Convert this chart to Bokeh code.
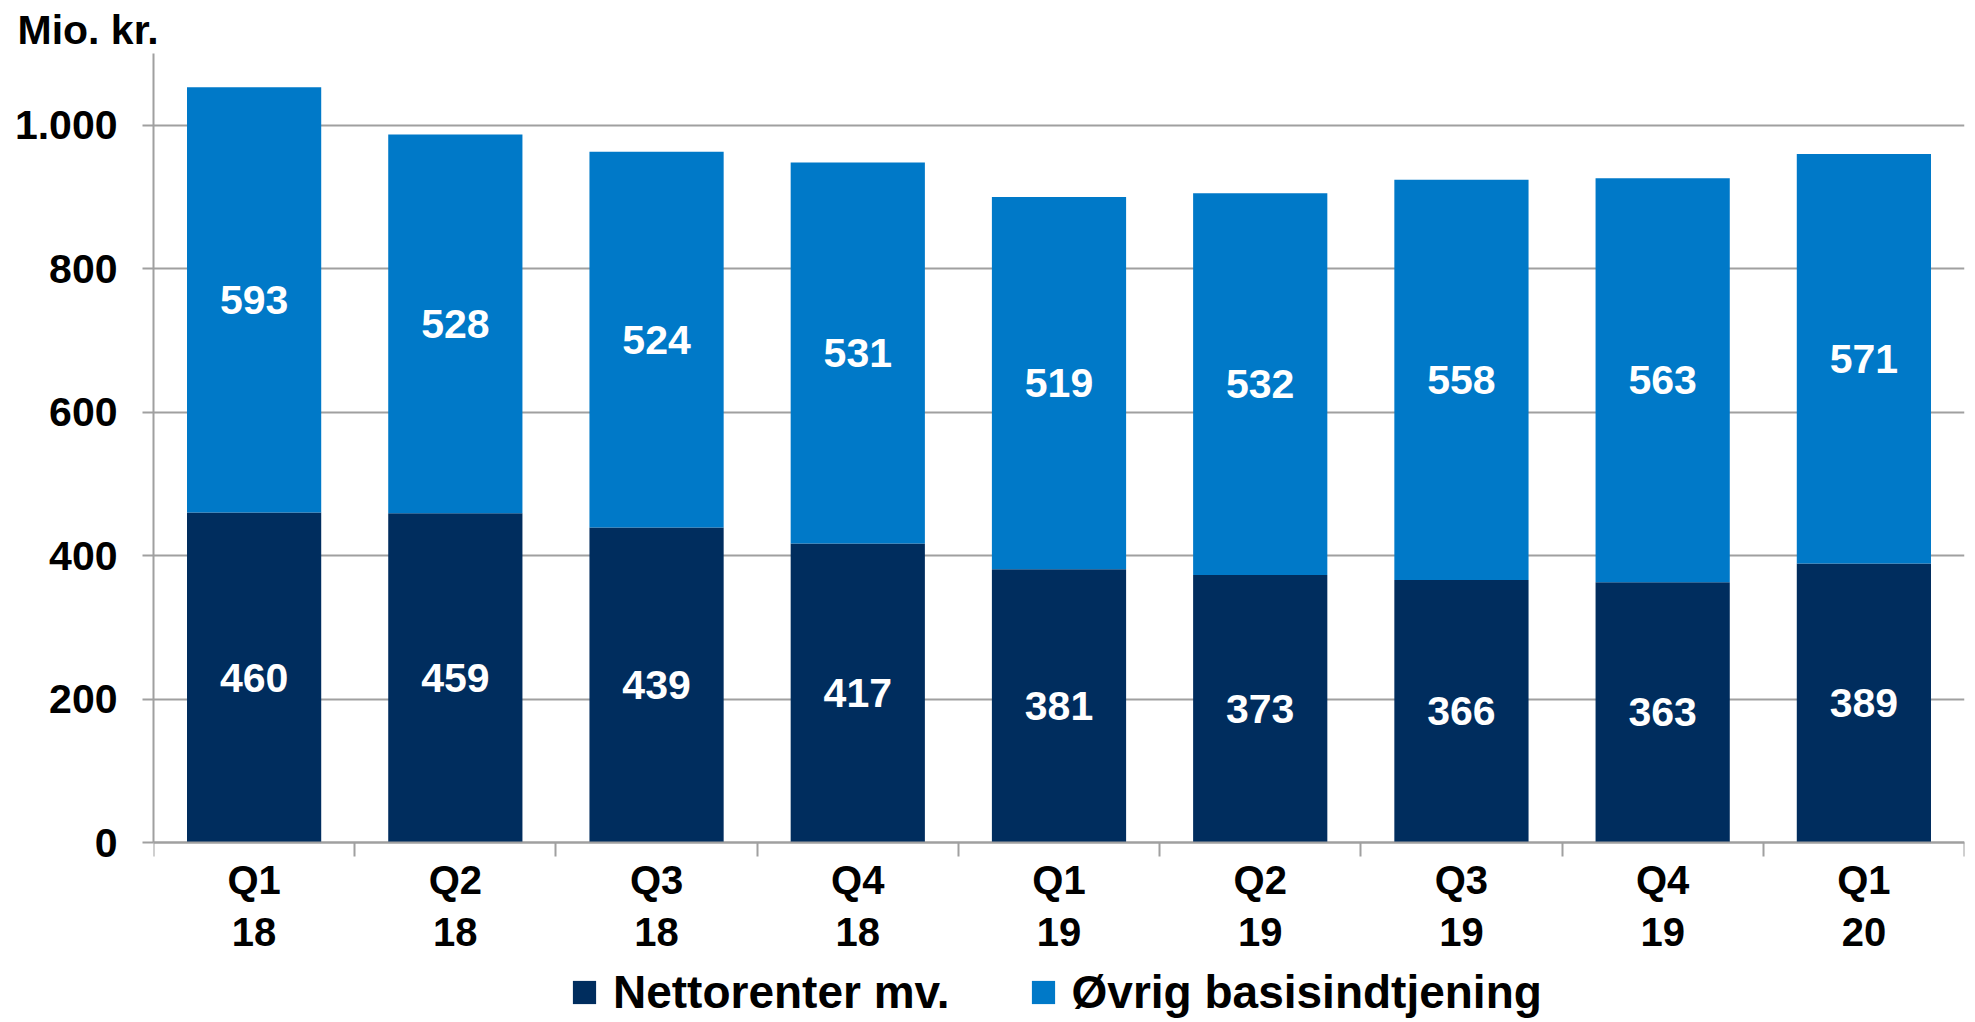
from bokeh.plotting import figure
from bokeh.models import (FixedTicker, Legend, LegendItem, ColumnDataSource, Range1d)
from bokeh.core.properties import value
from bokeh.embed import file_html
from bokeh.resources import INLINE

# ---- data ----
quarters = ["Q1", "Q2", "Q3", "Q4", "Q1", "Q2", "Q3", "Q4", "Q1"]
years = ["18", "18", "18", "18", "19", "19", "19", "19", "20"]
nettorenter = [460, 459, 439, 417, 381, 373, 366, 363, 389]
oevrig = [593, 528, 524, 531, 519, 532, 558, 563, 571]
y_ticks = [0, 200, 400, 600, 800, 1000]
y_tick_labels = ["0", "200", "400", "600", "800", "1.000"]
series_names = ["Nettorenter mv.", "Øvrig basisindtjening"]
unit_label = "Mio. kr."

# ---- style / layout ----
FONT = "Liberation Sans"
DARK = "#002D5E"
LIGHT = "#0079C8"
GRAY = "#A0A0A0"
W, H = 1975, 1022
TOP, LEFT, RIGHT = 53, 153, 11
ZERO_PX = 842            # pixel row of value 0
Y_MAX = 1100
px_per_unit = (ZERO_PX - TOP) / Y_MAX
y_start = -(H - ZERO_PX) / px_per_unit   # extend frame below zero for axis labels + legend

n = len(quarters)
xs = [i + 0.5 for i in range(n)]
totals = [a + b for a, b in zip(nettorenter, oevrig)]
mid_dark = [a / 2 for a in nettorenter]
mid_light = [a + b / 2 for a, b in zip(nettorenter, oevrig)]

src = ColumnDataSource(dict(
    x=xs, net=nettorenter, tot=totals, md=mid_dark, ml=mid_light,
    tnet=[str(v) for v in nettorenter], toev=[str(v) for v in oevrig],
))

p = figure(width=W, height=H, x_range=Range1d(0, n), y_range=Range1d(y_start, Y_MAX),
           output_backend="svg", toolbar_location=None,
           min_border_left=LEFT, min_border_right=RIGHT, min_border_top=TOP, min_border_bottom=0)
p.outline_line_color = None
p.background_fill_color = "white"
p.border_fill_color = "white"

# title
p.title.text = unit_label
p.title.text_font = FONT
p.title.text_font_style = "bold"
p.title.text_font_size = "41px"
p.title.text_color = "black"
p.title.align = "left"
p.title.vertical_align = "middle"
p.title.offset = -136
p.title.standoff = 0

r_dark = p.vbar(x="x", width=0.667, bottom=0, top="net", source=src, fill_color=DARK, line_color=None)
r_light = p.vbar(x="x", width=0.667, bottom="net", top="tot", source=src, fill_color=LIGHT, line_color=None)

for ycol, tcol in (("md", "tnet"), ("ml", "toev")):
    p.text(x="x", y=ycol, text=tcol, source=src, text_color="white",
           text_font=value(FONT), text_font_style="bold", text_font_size="41px",
           text_align="center", text_baseline="middle")

# x axis (sits at value 0)
xa = p.xaxis[0]
xa.fixed_location = 0
xa.ticker = FixedTicker(ticks=xs, minor_ticks=list(range(n + 1)))
xa.major_label_overrides = {x: f"{q}\n{y}" for x, q, y in zip(xs, quarters, years)}
xa.major_tick_out = 0
xa.major_tick_in = 0
xa.minor_tick_out = 14
xa.minor_tick_in = 0
xa.minor_tick_line_color = GRAY
xa.minor_tick_line_width = 2
xa.axis_line_color = GRAY
xa.axis_line_width = 2
xa.major_label_text_font = FONT
xa.major_label_text_font_style = "bold"
xa.major_label_text_font_size = "40px"
xa.major_label_text_color = "black"
xa.major_label_standoff = 1

# y axis
ya = p.yaxis[0]
ya.bounds = (0, Y_MAX)
ya.ticker = FixedTicker(ticks=y_ticks, minor_ticks=[])
ya.major_label_overrides = dict(zip(y_ticks, y_tick_labels))
ya.major_tick_out = 11
ya.major_tick_in = 0
ya.major_tick_line_color = GRAY
ya.major_tick_line_width = 2
ya.minor_tick_line_color = None
ya.axis_line_color = GRAY
ya.axis_line_width = 2
ya.major_label_text_font = FONT
ya.major_label_text_font_style = "bold"
ya.major_label_text_font_size = "41px"
ya.major_label_text_color = "black"
ya.major_label_standoff = 25

p.xgrid.visible = False
p.ygrid.ticker = FixedTicker(ticks=y_ticks, minor_ticks=[])
p.ygrid.grid_line_color = GRAY
p.ygrid.grid_line_width = 2

# legend swatches: zero-size square markers on the bar data (only the legend glyph shows)
r1 = p.scatter(x="x", y="net", source=src, size=0, marker="square", fill_color=DARK, line_color=None)
r2 = p.scatter(x="x", y="tot", source=src, size=0, marker="square", fill_color=LIGHT, line_color=None)
legend = Legend(items=[LegendItem(label=series_names[0], renderers=[r1]),
                       LegendItem(label=series_names[1], renderers=[r2])],
                orientation="horizontal", location=(402, 1),
                glyph_width=58, glyph_height=58, label_standoff=0, spacing=64,
                padding=0, margin=0, border_line_color=None, background_fill_alpha=0,
                label_text_font=FONT, label_text_font_style="bold",
                label_text_font_size="46px", label_text_color="black")
p.add_layout(legend, "center")

open("out.html", "w").write(file_html(p, INLINE))
